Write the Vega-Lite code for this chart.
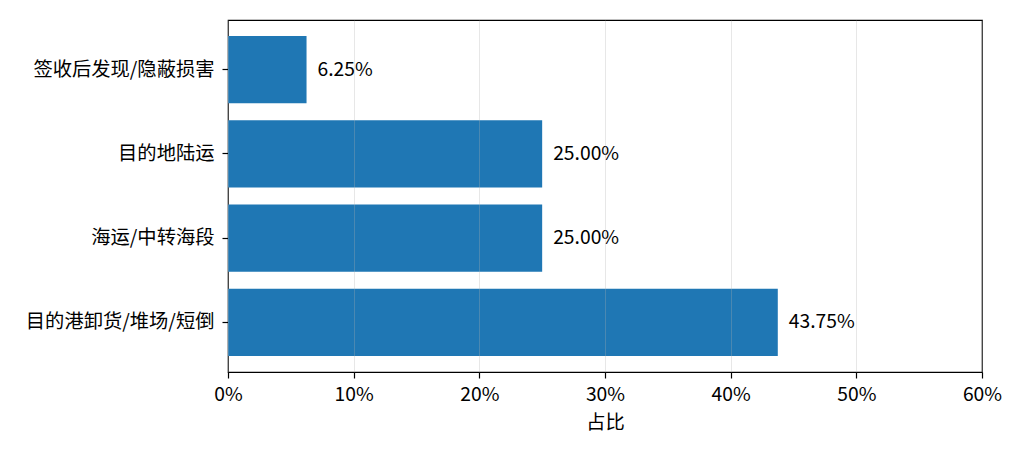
{
  "$schema": "https://vega.github.io/schema/vega-lite/v6.json",
  "width": 754,
  "height": 352,
  "autosize": {"type": "none"},
  "padding": {"left": 228, "top": 20, "right": 42, "bottom": 83},
  "background": "white",
  "data": {
    "values": [
      {"stage": "签收后发现/隐蔽损害", "share": 0.0625},
      {"stage": "目的地陆运", "share": 0.25},
      {"stage": "海运/中转海段", "share": 0.25},
      {"stage": "目的港卸货/堆场/短倒", "share": 0.4375}
    ]
  },
  "encoding": {
    "y": {
      "field": "stage",
      "type": "nominal",
      "sort": null,
      "scale": {"paddingInner": 0.2, "paddingOuter": 0.19},
      "axis": {"title": null, "grid": false, "domain": false, "labelPadding": 8, "labelLimit": 0}
    },
    "x": {
      "field": "share",
      "type": "quantitative",
      "scale": {"domain": [0, 0.6], "nice": false, "zero": true},
      "axis": {
        "title": "占比",
        "format": ".0%",
        "values": [0, 0.1, 0.2, 0.3, 0.4, 0.5, 0.6],
        "grid": true,
        "gridColor": "#b0b0b0",
        "gridOpacity": 0.3,
        "domain": false,
        "zindex": 1,
        "labelFlush": false,
        "labelPadding": 7,
        "titlePadding": 9
      }
    }
  },
  "layer": [
    {
      "mark": {"type": "bar", "color": "#1f77b4"}
    },
    {
      "mark": {"type": "text", "align": "left", "baseline": "middle", "dx": 11, "color": "black", "font": "Noto Sans CJK SC", "fontSize": 19.3},
      "encoding": {
        "text": {"field": "share", "type": "quantitative", "format": ".2%"}
      }
    }
  ],
  "config": {
    "view": {"stroke": "black", "strokeWidth": 1.2},
    "axis": {
      "labelFont": "Noto Sans CJK SC",
      "titleFont": "Noto Sans CJK SC",
      "labelFontSize": 19.3,
      "titleFontSize": 19.3,
      "titleFontWeight": "normal",
      "labelColor": "black",
      "titleColor": "black",
      "tickColor": "black",
      "tickSize": 6,
      "tickWidth": 1.2
    }
  }
}
